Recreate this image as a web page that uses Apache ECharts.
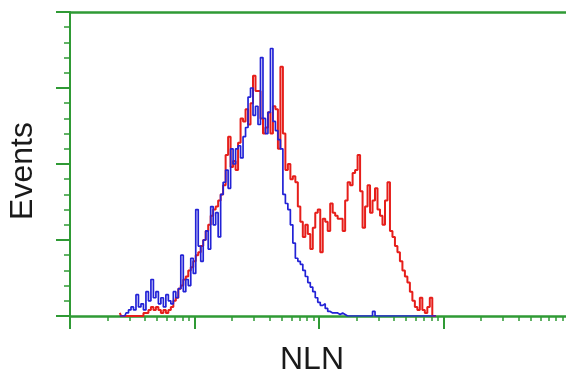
<!DOCTYPE html>
<html>
<head>
<meta charset="utf-8">
<script src="https://cdn.jsdelivr.net/npm/echarts@6/dist/echarts.min.js"></script>
<style>
  html, body { margin: 0; padding: 0; background: #fff; }
  #chart { width: 566px; height: 375px; }
</style>
</head>
<body>
<div id="chart"></div>
<script>
// bin centres, in decades of the log scale (0 = 10^0 ... 4 = 10^4)
const channels = [
  0.40, 0.42, 0.44, 0.46, 0.48, 0.50, 0.52, 0.54, 0.56, 0.58,
  0.60, 0.62, 0.64, 0.66, 0.68, 0.70, 0.72, 0.74, 0.76, 0.78,
  0.80, 0.82, 0.84, 0.86, 0.88, 0.90, 0.92, 0.94, 0.96, 0.98,
  1.00, 1.02, 1.04, 1.06, 1.08, 1.10, 1.12, 1.14, 1.16, 1.18,
  1.20, 1.22, 1.24, 1.26, 1.28, 1.30, 1.32, 1.34, 1.36, 1.38,
  1.40, 1.42, 1.44, 1.46, 1.48, 1.50, 1.52, 1.54, 1.56, 1.58,
  1.60, 1.62, 1.64, 1.66, 1.68, 1.70, 1.72, 1.74, 1.76, 1.78,
  1.80, 1.82, 1.84, 1.86, 1.88, 1.90, 1.92, 1.94, 1.96, 1.98,
  2.00, 2.02, 2.04, 2.06, 2.08, 2.10, 2.12, 2.14, 2.16, 2.18,
  2.20, 2.22, 2.24, 2.26, 2.28, 2.30, 2.32, 2.34, 2.36, 2.38,
  2.40, 2.42, 2.44, 2.46, 2.48, 2.50, 2.52, 2.54, 2.56, 2.58,
  2.60, 2.62, 2.64, 2.66, 2.68, 2.70, 2.72, 2.74, 2.76, 2.78,
  2.80, 2.82, 2.84, 2.86, 2.88, 2.90, 2.92, 2.94
];

// control (blue)
const blueCounts = [
  0, 0, 0, 1, 2, 3, 2, 7, 3, 4,
  2, 8, 5, 12, 6, 8, 4, 6, 3, 7,
  5, 4, 8, 6, 9, 20, 8, 12, 10, 19,
  14, 35, 23, 18, 25, 28, 22, 36, 30, 34,
  26, 40, 44, 48, 42, 55, 50, 55, 56, 52,
  59, 62, 72, 75, 66, 69, 63, 85, 65, 60,
  67, 88, 64, 61, 58, 55, 40, 37, 35, 30,
  24, 19, 18, 17, 15, 13, 11, 9.5, 8, 6,
  4.5, 3.5, 4, 2.5, 1.5, 1, 1, 1, 0.5, 1,
  0.5, 0, 0, 0, 0, 0, 0, 0, 0, 0,
  0, 0, 1.5, 0, 0, 0, 0, 0, 0, 0,
  0, 0, 0, 0, 0, 0, 0, 0, 0, 0,
  0, 0, 0, 0, 0, 0, 0, 0
];

// NLN stained (red)
const redCounts = [
  1, 0, 0, 0, 0, 0, 0, 0, 0, 0,
  1, 1, 2, 3, 2, 3, 2, 1, 2, 1,
  2, 3, 5, 6, 9, 10, 12, 13, 15, 16,
  18, 20, 21, 23, 25, 28, 30, 33, 35, 36,
  38, 40, 43, 53, 59, 49, 51, 48, 57, 65,
  64, 68, 63, 70, 79, 74, 74, 65, 60, 62,
  67, 60, 69, 68, 55, 82, 60, 48, 50, 45,
  46, 44, 36, 31, 26, 30, 27, 22, 29, 34,
  35, 21, 32, 31, 28, 37, 34, 33, 32, 32,
  28, 38, 44, 43, 47, 48, 53, 41, 29, 36,
  43, 34, 38, 42, 35, 33, 30, 38, 44, 28,
  26, 23, 21, 18, 15, 13, 11, 8, 5, 3,
  2, 6, 2, 1, 3, 6, 0, 0
];

const decades = [0, 1, 2, 3, 4];
const minorTicks = [];
decades.slice(0, 4).forEach(function (d) {
  for (let k = 2; k <= 9; k++) minorTicks.push(d + Math.log10(k));
});

const green = '#2f9a35';

let chart = echarts.init(document.getElementById('chart'));
chart.setOption({
  animation: false,
  backgroundColor: '#fff',
  grid: { left: 70, top: 12, width: 498, bottom: 59, containLabel: false, outerBoundsMode: 'none' },
  xAxis: [
    {
      type: 'value', min: 0, max: 4, interval: 1,
      name: 'NLN', nameLocation: 'middle', nameGap: 28,
      nameTextStyle: { fontFamily: 'Liberation Sans', fontSize: 32, color: '#1a1a1a', padding: [0, 14, 0, 0] },
      axisLine: { show: true, onZero: false, lineStyle: { color: green, width: 2.5 } },
      axisTick: { show: true, inside: false, length: 13, lineStyle: { color: green, width: 2 } },
      axisLabel: { show: false },
      splitLine: { show: false }
    },
    {
      type: 'value', min: 0, max: 4, position: 'bottom',
      axisLine: { show: false },
      axisTick: { show: true, length: 5, customValues: minorTicks, lineStyle: { color: green, width: 1.5 } },
      axisLabel: { show: false },
      splitLine: { show: false }
    },
    {
      type: 'value', min: 0, max: 4, position: 'top',
      axisLine: { show: true, onZero: false, lineStyle: { color: green, width: 2.5 } },
      axisTick: { show: false },
      axisLabel: { show: false },
      splitLine: { show: false }
    }
  ],
  yAxis: {
    type: 'value', min: 0, max: 100, interval: 25,
    name: 'Events', nameLocation: 'middle', nameGap: 31, nameRotate: 90,
    nameTextStyle: { fontFamily: 'Liberation Sans', fontSize: 32, color: '#1a1a1a', padding: [0, 14, 0, 0] },
    axisLine: { show: true, lineStyle: { color: green, width: 2 } },
    axisTick: { show: true, length: 14, lineStyle: { color: green, width: 2 } },
    minorTick: { show: true, splitNumber: 5, length: 6, lineStyle: { color: green, width: 1.5 } },
    axisLabel: { show: false },
    splitLine: { show: false }
  },
  series: [
    {
      name: 'NLN', type: 'line', step: 'middle', xAxisIndex: 0,
      symbol: 'none', z: 3,
      lineStyle: { color: '#e61e1a', width: 2 },
      data: channels.map((c, i) => [c, redCounts[i]])
    },
    {
      name: 'Control', type: 'line', step: 'middle', xAxisIndex: 0,
      symbol: 'none', z: 4,
      lineStyle: { color: '#2222d6', width: 1.7 },
      data: channels.map((c, i) => [c, blueCounts[i]])
    }
  ]
});
</script>
</body>
</html>
